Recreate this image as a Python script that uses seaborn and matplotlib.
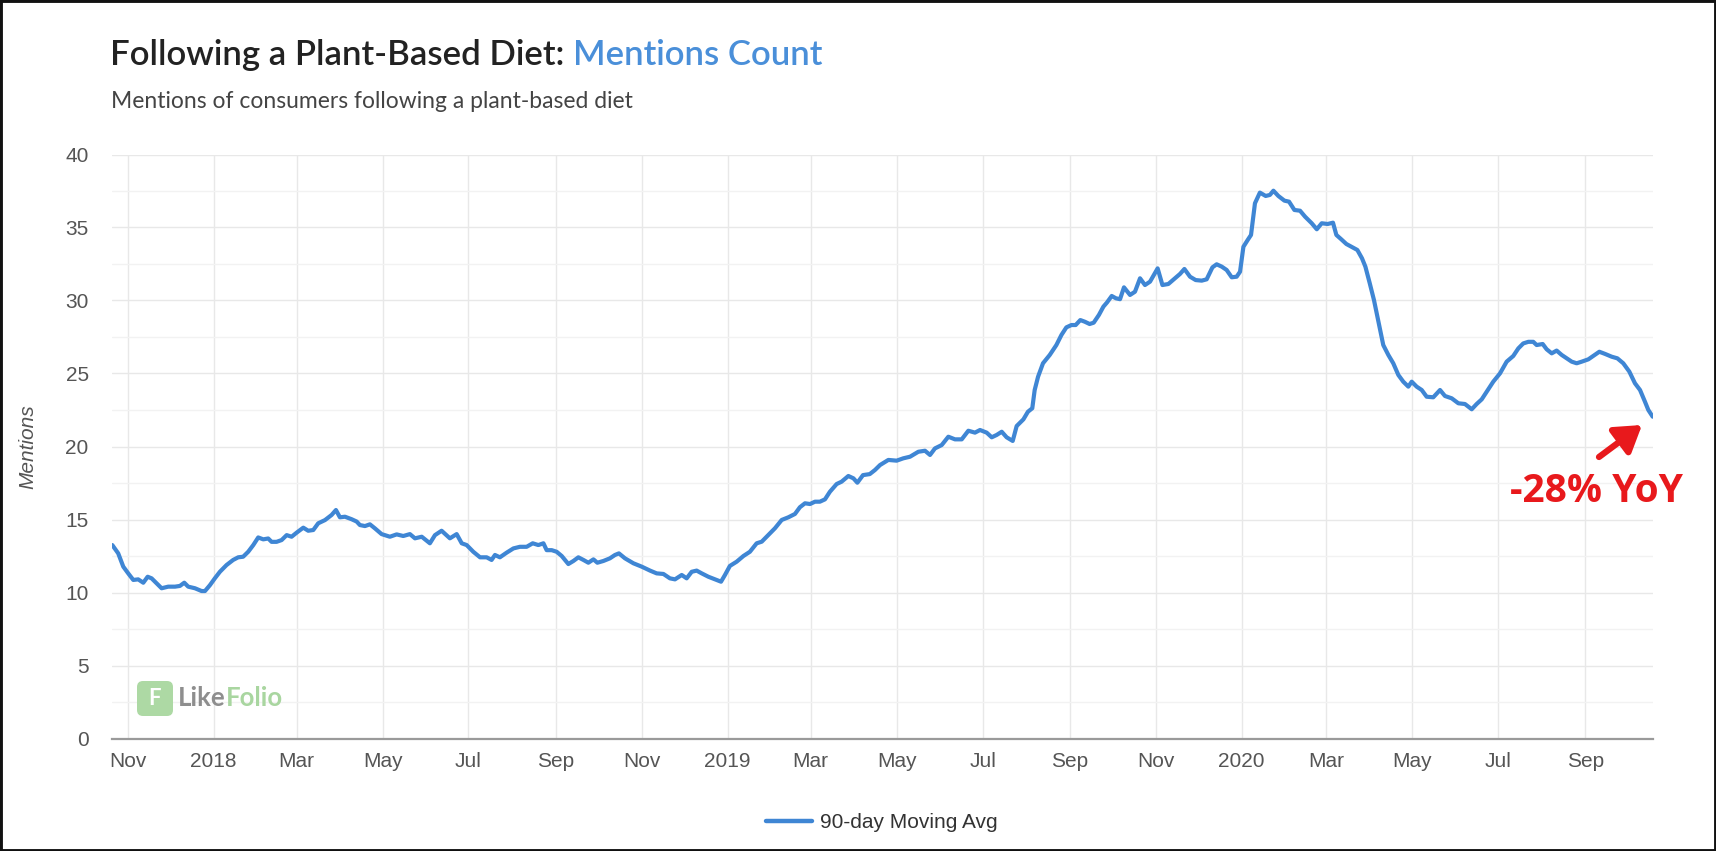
import numpy as np
import pandas as pd
import matplotlib
matplotlib.use("Agg")
import matplotlib.pyplot as plt
import matplotlib.dates as mdates
from matplotlib.ticker import MultipleLocator, FuncFormatter
from matplotlib.patches import FancyBboxPatch, Rectangle
from matplotlib.transforms import IdentityTransform
import seaborn as sns

# ---------------- data ----------------
start_date = "2017-11-01"
day_offsets = [
    -10.9, -6.7, -3.1, 0.4, 4.0, 7.5, 11.1, 14.2, 17.0, 20.6, 24.1, 28.8, 33.6, 37.1, 40.2, 43.0,
    47.8, 52.5, 54.9, 58.4, 61.9, 65.5, 70.2, 74.9, 78.5, 82.0, 85.6, 89.2, 92.7, 96.3, 99.8, 102.2,
    105.7, 109.3, 112.9, 116.4, 120.0, 124.7, 128.2, 131.8, 135.3, 140.1, 144.8, 147.9, 150.7, 154.3,
    159.0, 162.6,
    164.9, 168.5, 172.0, 175.6, 180.3, 186.2, 191.0, 195.7, 200.4, 204.0, 208.8, 211.1, 214.6, 218.2,
    222.9, 228.8, 233.6, 237.2, 240.7, 245.4, 250.2, 254.9, 258.4, 260.8, 264.3, 269.1, 273.9, 278.5,
    283.3, 287.6, 291.6, 295.2, 297.5, 301.1, 304.6, 308.2, 312.9, 316.5, 320.0, 323.6, 327.1, 330.7,
    333.5, 337.8, 342.4,
    346.0, 348.8, 353.1, 359.1, 365.0, 370.9, 375.6, 380.4, 385.0, 388.6, 393.4, 396.9, 400.5, 404.0,
    407.6, 412.3, 417.0, 421.3, 424.1, 427.6, 432.4, 437.2, 441.8, 446.6, 450.2, 454.9, 459.6, 464.4,
    469.1, 473.8, 477.3, 480.9, 484.5, 488.0, 491.5, 495.1, 498.6, 503.4, 506.9, 511.7, 515.3, 518.1,
    522.1, 526.9,
    530.6, 534.2, 540.1, 546.0, 550.7, 555.5, 561.4, 566.1, 569.7, 573.2, 578.0, 582.7, 587.4, 592.2,
    596.9, 601.6, 605.2, 609.9, 613.5, 617.0, 620.6, 624.1, 628.4, 631.2, 636.0, 639.2, 642.3, 644.0,
    646.4, 649.9, 654.7, 659.4, 663.0, 666.5, 670.1, 673.1, 676.4, 679.5, 683.0, 685.9, 689.6, 692.8,
    695.3, 698.7, 701.7, 704.6, 707.4,
    711.7, 715.2, 718.8, 722.3, 725.9, 731.3, 734.7, 738.9, 743.6, 747.2, 750.3, 754.3, 758.3, 762.6,
    766.1, 770.2, 773.2, 776.8, 780.3, 783.9, 787.4, 789.8, 792.2, 795.2, 797.6, 800.4, 803.9, 808.0,
    811.0, 813.5, 817.0, 821.3, 824.6, 828.4, 832.4, 836.0, 840.7, 844.3, 847.8, 852.0, 855.8, 858.2,
    861.7, 865.3, 868.9, 873.1, 876.4, 878.8, 881.9, 884.9, 887.8,
    891.5, 895.1, 898.6, 902.2, 905.7, 909.3, 911.7, 915.2, 918.8, 922.3, 927.0, 931.8, 935.3, 940.1,
    944.8, 949.5, 954.3, 957.8, 961.4, 964.9, 969.6, 974.4, 979.1, 983.8, 987.4, 990.9, 994.5, 998.0,
    1000.4, 1004.7, 1007.5, 1011.1, 1014.6, 1018.2, 1021.7, 1025.3, 1028.8, 1032.4, 1037.1, 1040.6,
    1044.9, 1049.0, 1053.7, 1057.7, 1061.9, 1066.2, 1070.2, 1073.8, 1077.3, 1079.7, 1082.8,
]
mentions = [
    13.25, 12.68, 11.77, 11.31, 10.86, 10.90, 10.67, 11.08, 10.97, 10.63, 10.29, 10.40, 10.40, 10.45, 10.67, 10.40,
    10.29, 10.10, 10.10, 10.50, 10.97, 11.42, 11.88, 12.23, 12.41, 12.45, 12.79, 13.25, 13.77, 13.64, 13.70, 13.47,
    13.47, 13.59, 13.93, 13.82, 14.10, 14.44, 14.23, 14.28, 14.74, 14.96, 15.31, 15.65, 15.15, 15.19,
    15.02, 14.86,
    14.62, 14.55, 14.67, 14.39, 14.00, 13.82, 13.98, 13.87, 14.00, 13.71, 13.82, 13.64, 13.37, 13.93,
    14.23, 13.71, 14.00, 13.37, 13.25, 12.79, 12.41, 12.41, 12.23, 12.57, 12.41, 12.73, 13.02, 13.13,
    13.13, 13.37, 13.25, 13.37, 12.90, 12.90, 12.79, 12.50, 11.95, 12.16, 12.41, 12.23, 12.04, 12.27,
    12.04, 12.16, 12.34,
    12.57, 12.68, 12.34, 12.00, 11.77, 11.50, 11.31, 11.27, 10.97, 10.90, 11.20, 10.97, 11.42, 11.50,
    11.31, 11.08, 10.90, 10.74, 11.20, 11.82, 12.11, 12.50, 12.79, 13.37, 13.48, 13.94, 14.40, 14.97,
    15.15, 15.38, 15.84, 16.11, 16.06, 16.22, 16.22, 16.38, 16.90, 17.43, 17.59, 17.98, 17.82, 17.52,
    18.04, 18.11,
    18.39, 18.73, 19.08, 19.03, 19.19, 19.30, 19.64, 19.71, 19.42, 19.87, 20.10, 20.67, 20.49, 20.49,
    21.08, 20.95, 21.13, 20.95, 20.63, 20.79, 21.01, 20.63, 20.38, 21.40, 21.86, 22.38, 22.62, 23.87,
    24.78, 25.70, 26.27, 26.95, 27.64, 28.16, 28.32, 28.32, 28.66, 28.55, 28.39, 28.48, 29.01, 29.58,
    29.86, 30.31, 30.15, 30.09, 30.90,
    30.38, 30.60, 31.52, 31.06, 31.29, 32.20, 31.06, 31.13, 31.52, 31.82, 32.16, 31.63, 31.40, 31.36,
    31.45, 32.27, 32.48, 32.32, 32.09, 31.59, 31.63, 31.97, 33.68, 34.14, 34.49, 36.66, 37.39, 37.16,
    37.23, 37.52, 37.16, 36.84, 36.77, 36.20, 36.15, 35.74, 35.29, 34.88, 35.29, 35.24, 35.33, 34.49,
    34.19, 33.87, 33.68, 33.46, 32.89, 32.32, 31.18, 30.03, 28.66,
    26.95, 26.27, 25.70, 24.90, 24.44, 24.10, 24.44, 24.10, 23.87, 23.41, 23.37, 23.87, 23.46, 23.30,
    22.96, 22.91, 22.55, 22.91, 23.23, 23.75, 24.44, 25.01, 25.81, 26.20, 26.72, 27.06, 27.17, 27.17,
    26.95, 27.02, 26.66, 26.38, 26.57, 26.27, 26.04, 25.81, 25.70, 25.81, 25.97, 26.20,
    26.49, 26.34, 26.15, 26.04, 25.70, 25.13, 24.33, 23.87, 23.07, 22.50, 22.04,
]
series_label = "90-day Moving Avg"
tick_months = [1, 3, 5, 7, 9, 11]
title_main = "Following a Plant-Based Diet: "
title_accent = "Mentions Count"
subtitle = "Mentions of consumers following a plant-based diet"
y_label = "Mentions"
annotation_text = "-28% YoY"
logo_a, logo_b = "Like", "Folio"

# ---------------- styling ----------------
LINE = "#3f86d4"
RED = "#e8191c"
sns.set_theme(style="white")
plt.rcParams["font.family"] = ["Liberation Sans", "DejaVu Sans"]

dates = pd.Timestamp(start_date) + pd.to_timedelta(day_offsets, unit="D")
df = pd.DataFrame({"date": dates, "mentions": mentions})

W, H = 1716, 851
fig = plt.figure(figsize=(W / 100, H / 100), dpi=100)
fig.patch.set_facecolor("white")
ax = fig.add_axes([112.3 / W, 1 - 738.5 / H, (1652.7 - 112.3) / W, (738.5 - 154.5) / H])

sns.lineplot(data=df, x="date", y="mentions", ax=ax, color=LINE, linewidth=3.0,
             label=series_label, zorder=3)

ax.set_xlim(dates.min(), dates.max())
ax.set_ylim(0, 40)
ax.yaxis.set_major_locator(MultipleLocator(5))
ax.yaxis.set_minor_locator(MultipleLocator(2.5))
ax.xaxis.set_major_locator(mdates.MonthLocator(bymonth=tick_months))
ax.xaxis.set_major_formatter(FuncFormatter(
    lambda v, p: (mdates.num2date(v).strftime("%Y") if mdates.num2date(v).month == 1
                  else mdates.num2date(v).strftime("%b"))))

ax.grid(which="major", axis="both", color="#e8e8e8", linewidth=1.0, zorder=0)
ax.grid(which="minor", axis="y", color="#f2f2f2", linewidth=1.0, zorder=0)
for s in ["top", "right", "left"]:
    ax.spines[s].set_visible(False)
ax.spines["bottom"].set_color("#9a9a9a")
ax.spines["bottom"].set_linewidth(1.6)
ax.tick_params(axis="both", which="both", length=0, labelsize=15, colors="#555555")
ax.tick_params(axis="y", pad=17)
ax.tick_params(axis="x", pad=10)
ax.set_xlabel("")
ax.set_ylabel(y_label, fontsize=15, style="italic", color="#555555", labelpad=20)

leg = ax.legend(loc="center", bbox_to_anchor=(882 / W, 1 - 823 / H), bbox_transform=fig.transFigure,
                frameon=False, fontsize=15, handlelength=2.2, handletextpad=0.4)
for t in leg.get_texts():
    t.set_color("#333333")
for l in leg.get_lines():
    l.set_linewidth(3.2)

# titles
t1 = fig.text(110 / W, 1 - 55 / H, title_main, fontsize=25, color="#222222",
              family=["Lato", "DejaVu Sans"], weight="semibold", va="center", ha="left")
fig.canvas.draw()
ax.annotate(title_accent, xy=(1, 0.5), xycoords=t1, va="center", ha="left",
            fontsize=25, color="#4a8fd9", family=["Lato", "DejaVu Sans"], weight="semibold",
            annotation_clip=False)
fig.text(111 / W, 1 - 102 / H, subtitle, fontsize=16.5, color="#444444",
         family=["Lato", "DejaVu Sans"], va="center", ha="left")

# watermark logo
ident = IdentityTransform()
logo_box = FancyBboxPatch((137, H - 716), 36, 35, boxstyle="round,pad=0,rounding_size=6",
                          transform=ident, facecolor="#add9a4", edgecolor="none", zorder=4)
fig.patches.append(logo_box)
fig.text(155 / W, 1 - 698.5 / H, "F", fontsize=16, weight="bold", color="white",
         ha="center", va="center", family=["Lato", "DejaVu Sans"], zorder=6)
ta = fig.text(178 / W, 1 - 698 / H, logo_a, fontsize=18.5, weight="bold", color="#8e8e8e",
              family=["Lato", "DejaVu Sans"], ha="left", va="center")
fig.canvas.draw()
ax.annotate(logo_b, xy=(1, 0.5), xycoords=ta, va="center", ha="left", fontsize=18.5,
            weight="bold", color="#a9d6a0", family=["Lato", "DejaVu Sans"], annotation_clip=False)

# annotation arrow + text
ax.annotate("", xy=(1642, H - 425), xycoords="figure pixels",
            xytext=(1599, H - 457), textcoords="figure pixels",
            arrowprops=dict(arrowstyle="-|>,head_length=0.7,head_width=0.45", color=RED,
                            lw=4.5, mutation_scale=22, shrinkA=0, shrinkB=0),
            annotation_clip=False)
ax.annotate(annotation_text, xy=(1597, H - 491), xycoords="figure pixels", ha="center",
            va="center", fontsize=28, weight="bold", color=RED,
            family=["Open Sans", "DejaVu Sans"], annotation_clip=False)

# outer frame
fig.patches.append(Rectangle((0, 0), 1, 1, transform=fig.transFigure, fill=False,
                             edgecolor="#111111", linewidth=3.5, zorder=10))

fig.savefig("out.png", dpi=100)
